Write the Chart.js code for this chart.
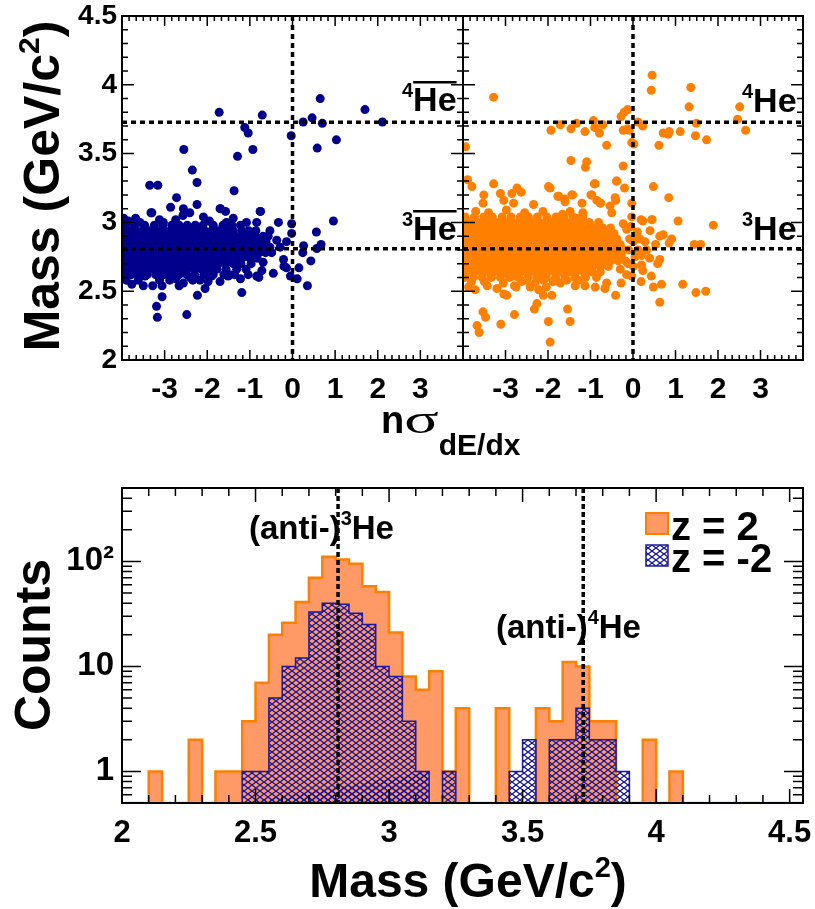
<!DOCTYPE html>
<html>
<head>
<meta charset="utf-8">
<script src="https://cdn.jsdelivr.net/npm/chart.js@4.4.1/dist/chart.umd.min.js"></script>
<style>
  body { margin: 0; background: #fff; }
  #wrap { position: relative; width: 815px; height: 909px; }
  canvas { position: absolute; }
</style>
</head>
<body>
<div id="wrap">
  <canvas id="antiPanel" style="left:0px;top:0px" width="815" height="470"></canvas>
  <canvas id="hePanel" style="left:440px;top:0px" width="375" height="470"></canvas>
  <canvas id="massHist" style="left:0px;top:470px" width="815" height="439"></canvas>
</div>
<script>
const FONT = "'Liberation Sans', Arial, Helvetica, sans-serif";
const NAVY = '#00008c';
const ORANGE = '#ff8000';

// axis labels
const nSigmaTicks = [-3, -2, -1, 0, 1, 2, 3];
const massTicks = [2, 2.5, 3, 3.5, 4, 4.5];
const countTicks = [1, 10, 100];

// nominal masses (GeV/c^2)
const he3Mass = 2.809;
const he4Mass = 3.727;

// mass histogram, 0.05 GeV/c^2 bins starting at 2.00
const binStart = 2.0;
const binWidth = 0.05;
const countsZ2 = [
  0, 0, 1, 0, 0, 2, 0, 1, 1, 3,
  7, 20, 26, 41, 70, 111, 104, 95, 58, 51,
  21, 8, 6, 9, 1, 4, 0, 0, 4, 0,
  0, 4, 3, 11, 10, 3, 3, 0, 0, 2,
  0, 1, 0, 0, 0, 0, 0, 0, 0, 0,
  0
];
const countsZm2 = [
  0, 0, 0, 0, 0, 0, 0, 0, 0, 1,
  1, 5, 10, 12, 33, 40, 39, 32, 25, 10,
  8, 3, 1, 0, 1, 0, 0, 0, 0, 1,
  2, 0, 2, 2, 4, 2, 2, 1, 0, 0,
  0, 0, 0, 0, 0, 0, 0, 0, 0, 0,
  0
];

// z = -2 candidates: dense band as rows [mass, nSigma...], then single tracks [nSigma, mass]
const antiHeBand = [
  [2.98, [-3.92, -3.71, -3.47, -3.24, -3.04, -2.83, -2.66, -2.47, -2.28, -2.10, -1.86, -1.63, -1.42, -1.22]],
  [2.94, [-3.98, -3.83, -3.66, -3.51, -3.34, -3.19, -3.02, -2.87, -2.70, -2.55, -2.39, -2.21, -2.06, -1.89, -1.73, -1.54, -1.39, -1.19, -1.03, -0.86]],
  [2.90, [-3.91, -3.75, -3.58, -3.43, -3.27, -3.10, -2.95, -2.78, -2.63, -2.46, -2.31, -2.14, -1.97, -1.82, -1.66, -1.49, -1.34, -1.17, -1.01, -0.87, -0.69]],
  [2.86, [-3.97, -3.82, -3.67, -3.50, -3.35, -3.18, -3.03, -2.86, -2.71, -2.54, -2.38, -2.23, -2.06, -1.90, -1.75, -1.58, -1.42, -1.27, -1.10, -0.94, -0.79, -0.62]],
  [2.82, [-3.90, -3.75, -3.58, -3.43, -3.26, -3.11, -2.94, -2.79, -2.62, -2.47, -2.30, -2.15, -1.98, -1.83, -1.66, -1.51, -1.34, -1.19, -1.02, -0.86, -0.71, -0.53]],
  [2.78, [-3.97, -3.82, -3.66, -3.51, -3.34, -3.18, -3.02, -2.87, -2.70, -2.55, -2.38, -2.22, -2.07, -1.90, -1.74, -1.59, -1.42, -1.26, -1.11, -0.95, -0.78, -0.63]],
  [2.74, [-3.91, -3.74, -3.59, -3.42, -3.27, -3.10, -2.95, -2.78, -2.63, -2.46, -2.31, -2.14, -1.98, -1.82, -1.67, -1.50, -1.35, -1.18, -1.00, -0.83]],
  [2.70, [-3.98, -3.82, -3.67, -3.50, -3.35, -3.18, -3.03, -2.86, -2.71, -2.54, -2.39, -2.22, -2.06, -1.91, -1.74, -1.57, -1.39, -1.21, -0.97]],
  [2.66, [-3.90, -3.75, -3.58, -3.43, -3.26, -3.11, -2.94, -2.79, -2.62, -2.47, -2.30, -2.13, -1.95, -1.77, -1.56, -1.31, -1.09]],
  [2.62, [-3.96, -3.78, -3.61, -3.41, -3.21, -3.02, -2.85, -2.66, -2.48, -2.29, -2.08, -1.86, -1.61, -1.36]]
];
const antiHeTracks = [
  [-1.72, 3.80], [-0.71, 3.78], [-1.12, 3.69], [-1.04, 3.65], [-0.93, 3.53], [-1.29, 3.48], [-2.55, 3.53],
  [-2.35, 3.38], [-2.24, 3.29], [-3.35, 3.27], [-3.16, 3.27], [-1.37, 3.23], [-2.72, 3.18], [-2.86, 3.11],
  [-2.56, 3.10], [-2.24, 3.13], [0.65, 3.90], [1.70, 3.82], [2.11, 3.73], [0.25, 3.73], [0.46, 3.76],
  [0.70, 3.72], [-0.03, 3.63], [0.58, 3.54], [1.03, 3.60], [0.96, 3.01], [-0.02, 2.99], [-0.33, 3.00],
  [-1.69, 3.10], [-1.57, 3.08], [-0.75, 3.08], [-3.32, 3.07], [-3.96, 3.03], [0.56, 2.93], [0.67, 2.84],
  [0.26, 2.83], [0.24, 2.78], [0.57, 2.81], [0.43, 2.72], [0.15, 2.67], [0.11, 2.59], [0.35, 2.54],
  [-0.05, 2.61], [-0.20, 2.68], [-0.14, 2.67], [-0.02, 2.92], [-0.53, 2.94], [-1.19, 2.49], [-2.23, 2.47],
  [-3.06, 2.46], [-3.19, 2.39], [-3.17, 2.31], [-2.48, 2.33], [-3.77, 2.55], [-3.50, 2.54], [-3.28, 2.54],
  [-3.06, 2.54], [-2.66, 2.54], [-2.34, 2.58], [-2.05, 2.52], [-1.70, 2.57], [-1.51, 2.61], [-0.79, 2.60],
  [-1.04, 2.62], [-3.30, 3.07], [-2.41, 3.07], [-1.70, 3.10], [-0.76, 3.08], [-1.08, 3.00], [-0.84, 3.00],
  [-1.39, 3.03], [-2.09, 3.04], [-3.03, 3.00], [-3.58, 3.00], [-3.46, 2.61], [-2.88, 2.58], [-2.56, 2.56],
  [-2.17, 2.58], [-1.90, 2.61], [-1.47, 2.62], [-0.84, 2.61], [-0.61, 2.82], [-0.49, 2.78], [-0.69, 2.71],
  [-0.72, 2.65], [-0.37, 2.87], [-0.29, 2.82], [-0.21, 2.73], [-0.45, 2.63], [-0.14, 2.86], [-0.57, 2.90],
  [-3.85, 3.01], [-3.68, 3.03], [-3.12, 3.02], [-2.74, 3.02], [-2.57, 3.05], [-1.95, 3.01], [-1.55, 3.00],
  [-3.90, 2.58], [-3.62, 2.58], [-3.12, 2.58], [-2.74, 2.59], [-2.40, 2.60], [-1.98, 2.57], [-1.22, 2.59]
];

// z = +2 candidates
const heBand = [
  [3.04, [-3.95, -3.73, -3.51, -3.31, -3.08, -2.87, -2.65, -2.46, -2.25, -2.03, -1.81, -1.62, -1.41, -1.18]],
  [3.00, [-3.98, -3.82, -3.66, -3.50, -3.34, -3.17, -3.01, -2.85, -2.69, -2.53, -2.37, -2.21, -2.05, -1.89, -1.73, -1.57, -1.40, -1.22, -1.03, -0.81]],
  [2.96, [-3.92, -3.76, -3.60, -3.44, -3.28, -3.12, -2.96, -2.80, -2.64, -2.48, -2.32, -2.16, -2.00, -1.84, -1.68, -1.52, -1.36, -1.20, -1.04, -0.88, -0.71, -0.53]],
  [2.92, [-3.98, -3.83, -3.67, -3.51, -3.35, -3.19, -3.03, -2.87, -2.71, -2.55, -2.39, -2.23, -2.07, -1.91, -1.75, -1.59, -1.43, -1.27, -1.11, -0.95, -0.79, -0.62, -0.45]],
  [2.88, [-3.91, -3.75, -3.59, -3.43, -3.27, -3.11, -2.95, -2.79, -2.63, -2.47, -2.31, -2.15, -1.99, -1.83, -1.67, -1.51, -1.35, -1.19, -1.03, -0.87, -0.71, -0.54, -0.38]],
  [2.84, [-3.98, -3.83, -3.67, -3.51, -3.35, -3.19, -3.03, -2.87, -2.71, -2.55, -2.39, -2.23, -2.07, -1.91, -1.75, -1.59, -1.43, -1.27, -1.11, -0.95, -0.79, -0.63, -0.46, -0.30]],
  [2.80, [-3.91, -3.75, -3.59, -3.43, -3.27, -3.11, -2.95, -2.79, -2.63, -2.47, -2.31, -2.15, -1.99, -1.83, -1.67, -1.51, -1.35, -1.19, -1.03, -0.87, -0.71, -0.55, -0.38, -0.22]],
  [2.76, [-3.98, -3.83, -3.67, -3.51, -3.35, -3.19, -3.03, -2.87, -2.71, -2.55, -2.39, -2.23, -2.07, -1.91, -1.75, -1.59, -1.43, -1.27, -1.11, -0.95, -0.79, -0.63, -0.45, -0.28]],
  [2.72, [-3.91, -3.75, -3.59, -3.43, -3.27, -3.11, -2.95, -2.79, -2.63, -2.47, -2.31, -2.15, -1.99, -1.83, -1.67, -1.51, -1.35, -1.19, -1.03, -0.87, -0.70, -0.52, -0.35]],
  [2.68, [-3.98, -3.83, -3.67, -3.51, -3.35, -3.19, -3.03, -2.87, -2.71, -2.55, -2.39, -2.23, -2.07, -1.91, -1.75, -1.59, -1.43, -1.27, -1.11, -0.94, -0.76, -0.58]],
  [2.64, [-3.92, -3.76, -3.60, -3.44, -3.28, -3.12, -2.96, -2.80, -2.64, -2.48, -2.32, -2.16, -2.00, -1.84, -1.68, -1.51, -1.34, -1.16, -0.97, -0.77]],
  [2.60, [-3.96, -3.76, -3.55, -3.33, -3.12, -2.90, -2.69, -2.47, -2.26, -2.04, -1.82, -1.60, -1.37, -1.12, -0.86]]
];
const heTracks = [
  [0.45, 4.07], [0.43, 3.96], [1.36, 3.98], [-3.28, 3.91], [1.32, 3.84], [2.51, 3.84], [2.46, 3.75],
  [2.65, 3.67], [1.49, 3.72], [1.47, 3.63], [1.73, 3.60], [1.11, 3.66], [0.85, 3.66], [0.71, 3.65],
  [0.83, 3.64], [0.61, 3.56], [0.12, 3.73], [0.23, 3.70], [-0.13, 3.82], [-0.21, 3.80], [-0.28, 3.77],
  [-0.13, 3.68], [-0.23, 3.67], [-0.09, 3.67], [-0.03, 3.58], [0.02, 3.57], [-0.93, 3.74], [-0.90, 3.69],
  [-0.79, 3.65], [-0.71, 3.71], [-1.13, 3.66], [-1.46, 3.68], [-1.33, 3.72], [-1.71, 3.71], [-1.93, 3.67],
  [-0.62, 3.56], [-3.94, 3.55], [-1.46, 3.45], [-1.09, 3.44], [-1.12, 3.40], [-0.23, 3.41], [-3.89, 3.31],
  [-3.79, 3.26], [-3.28, 3.28], [-1.95, 3.25], [-0.91, 3.28], [-0.39, 3.30], [-0.20, 3.25], [0.48, 3.26],
  [0.84, 3.18], [-2.73, 3.25], [-2.63, 3.22], [-3.12, 3.21], [-2.85, 3.21], [-3.51, 3.20], [-3.53, 3.14],
  [-1.77, 3.19], [-1.61, 3.17], [-1.42, 3.20], [-0.99, 3.20], [-0.85, 3.16], [-0.76, 3.14], [-1.20, 3.14],
  [-0.41, 3.16], [-0.54, 3.12], [1.06, 3.01], [1.89, 2.98], [0.45, 3.02], [0.23, 3.01], [-0.03, 3.14],
  [1.44, 2.84], [1.59, 2.84], [1.17, 2.55], [1.48, 2.49], [1.71, 2.50], [0.63, 2.42], [0.48, 2.53],
  [0.67, 2.55], [0.19, 2.57], [0.43, 2.61], [0.63, 2.73], [0.58, 2.70], [0.39, 2.74], [0.20, 2.69],
  [0.23, 2.65], [0.85, 2.85], [0.91, 2.88], [0.71, 2.91], [0.63, 2.90], [0.53, 2.84], [0.40, 2.94],
  [0.44, 3.02], [0.19, 3.02], [-0.41, 2.47], [-1.95, 2.13], [-1.99, 2.28], [-1.48, 2.28], [-1.54, 2.37],
  [-2.32, 2.37], [-2.26, 2.41], [-2.79, 2.33], [-3.11, 2.26], [-3.67, 2.25], [-3.62, 2.20], [-3.53, 2.35],
  [-3.47, 2.31], [-3.04, 2.48], [-2.97, 2.47], [-2.79, 2.54], [-2.75, 2.53], [-2.22, 2.51], [-2.11, 2.47],
  [-1.91, 2.47], [-2.04, 2.53], [-3.04, 3.16], [-2.81, 3.14], [-2.34, 3.13], [-1.99, 3.26], [-1.75, 3.19],
  [-1.60, 3.15], [-1.44, 3.20], [-1.48, 3.08], [-1.18, 3.07], [-0.97, 3.20], [-0.89, 3.28], [-0.77, 3.14],
  [-0.50, 3.07], [-0.38, 3.30], [-0.42, 3.18], [-0.23, 2.99], [-0.03, 3.04], [0.09, 2.90], [0.01, 2.86],
  [0.05, 2.75], [0.01, 2.68], [-0.15, 2.62], [-0.28, 2.56], [-0.03, 2.61], [-3.87, 2.53], [-3.71, 2.51],
  [-3.43, 2.54], [-3.20, 2.52], [-2.50, 2.58], [-2.42, 2.53], [-1.71, 2.56], [-1.56, 2.58], [-1.36, 2.54],
  [-1.13, 2.54], [-0.89, 2.53], [-0.66, 2.52], [-0.62, 2.56], [-2.11, 2.58], [-2.77, 2.61], [-2.93, 2.62],
  [-0.15, 2.95], [-0.10, 2.80], [-0.18, 2.72], [-0.08, 2.88], [-0.30, 2.66], [-0.12, 2.70], [0.12, 2.80],
  [0.16, 2.88], [0.28, 2.86], [0.32, 2.80], [0.20, 2.76], [0.10, 2.93], [-0.05, 2.97],
  [-3.70, 3.08], [-3.40, 3.07], [-2.98, 3.09], [-2.55, 3.07], [-2.12, 3.08], [-1.66, 3.06], [-1.30, 3.03],
  [-3.80, 2.57], [-3.50, 2.57], [-3.05, 2.56], [-2.62, 2.57], [-2.30, 2.56], [-1.88, 2.57], [-1.28, 2.58]
];

function toPoints(band, tracks) {
  const pts = [];
  band.forEach(([m, xs]) => xs.forEach(x => pts.push({ x, y: m })));
  tracks.forEach(([x, m]) => pts.push({ x, y: m }));
  return pts;
}

// tick mark positions [value, length]
const nSigmaMarks = [];
for (let k = -24; k <= 24; k++) nSigmaMarks.push([k / 6, k % 6 === 0 ? 10 : 5]);
const massMarksTop = [];
for (let k = 20; k <= 45; k++) massMarksTop.push([k / 10, k % 5 === 0 ? 12 : 6]);
const massMarksBottom = [];
for (let k = 20; k <= 45; k++) massMarksBottom.push([k / 10, k % 5 === 0 ? 14 : 8]);
const countMarks = [];
[0.1, 1, 10, 100].forEach(d => {
  for (let m = 1; m <= 9; m++) {
    const v = m * d;
    if (v >= 0.5 && v <= 500) countMarks.push([v, m === 1 ? 19 : 10]);
  }
});

function drawFrame(chart, xMarks, yMarks) {
  const { ctx, chartArea: a, scales: { x, y } } = chart;
  ctx.save();
  ctx.strokeStyle = '#000';
  ctx.lineWidth = 1.5;
  ctx.beginPath();
  xMarks.forEach(([v, len]) => {
    const px = x.getPixelForValue(v);
    ctx.moveTo(px, a.bottom); ctx.lineTo(px, a.bottom - len);
    ctx.moveTo(px, a.top); ctx.lineTo(px, a.top + len);
  });
  yMarks.forEach(([v, len]) => {
    const py = y.getPixelForValue(v);
    ctx.moveTo(a.left, py); ctx.lineTo(a.left + len, py);
    ctx.moveTo(a.right, py); ctx.lineTo(a.right - len, py);
  });
  ctx.stroke();
  ctx.lineWidth = 2;
  ctx.strokeRect(a.left, a.top, a.right - a.left, a.bottom - a.top);
  ctx.restore();
}

function dashed(ctx, x0, y0, x1, y1, dash) {
  ctx.save();
  ctx.strokeStyle = '#000';
  ctx.lineWidth = 3.5;
  ctx.setLineDash(dash);
  ctx.beginPath();
  ctx.moveTo(x0, y0);
  ctx.lineTo(x1, y1);
  ctx.stroke();
  ctx.restore();
}

// draws a run of text pieces (for super/subscripts); returns total width
function richText(ctx, parts, x, y, opts = {}) {
  ctx.save();
  ctx.fillStyle = '#000';
  ctx.textBaseline = 'alphabetic';
  ctx.textAlign = 'left';
  let total = 0;
  parts.forEach(p => { ctx.font = p.font; total += ctx.measureText(p.text).width * (p.sx || 1); });
  ctx.translate(x, y);
  if (opts.rotate) ctx.rotate(-Math.PI / 2);
  let cx = opts.center ? -total / 2 : 0;
  parts.forEach(p => {
    ctx.font = p.font;
    const w = ctx.measureText(p.text).width * (p.sx || 1);
    ctx.save();
    ctx.translate(cx, p.dy || 0);
    ctx.scale(p.sx || 1, 1);
    ctx.fillText(p.text, 0, 0);
    ctx.restore();
    if (p.overline) ctx.fillRect(cx, p.overline, w, 2.5);
    cx += w;
  });
  ctx.restore();
  return total;
}

const bold = s => `bold ${s}px ${FONT}`;

function scatterOptions(showY, pad) {
  return {
    responsive: false,
    animation: false,
    events: [],
    layout: { padding: pad },
    plugins: { legend: { display: false }, tooltip: { enabled: false } },
    scales: {
      x: {
        type: 'linear', min: -4, max: 4,
        grid: { display: false, drawTicks: false },
        border: { display: false },
        afterBuildTicks: s => { s.ticks = nSigmaTicks.map(v => ({ value: v })); },
        afterFit: s => { s.height = 110; s.paddingLeft = 0; s.paddingRight = 0; },
        ticks: { color: '#000', padding: 12, font: { family: FONT, weight: 'bold', size: 30 },
                 callback: v => String(v) }
      },
      y: {
        type: 'linear', min: 2, max: 4.5, display: showY,
        grid: { display: false, drawTicks: false },
        border: { display: false },
        afterBuildTicks: s => { s.ticks = massTicks.map(v => ({ value: v })); },
        afterFit: s => { s.width = showY ? 122 : 0; s.paddingTop = 0; s.paddingBottom = 0; },
        ticks: { color: '#000', padding: 5, font: { family: FONT, weight: 'bold', size: 28 },
                 callback: v => String(v) }
      }
    }
  };
}

function massLinesPlugin(labels) {
  return {
    id: 'massLines',
    afterDatasetsDraw(chart) {
      const { ctx, chartArea: a, scales: { x, y } } = chart;
      [he3Mass, he4Mass].forEach(m => {
        const py = y.getPixelForValue(m);
        dashed(ctx, a.left, py, a.right, py, [5, 4]);
      });
      const px = x.getPixelForValue(0);
      dashed(ctx, px, a.top, px, a.bottom, [5, 4]);
      drawFrame(chart, nSigmaMarks, massMarksTop);
      labels(ctx);
    }
  };
}

// z = -2 panel (left), also carries the shared axis titles
new Chart(document.getElementById('antiPanel'), {
  type: 'scatter',
  data: {
    datasets: [{
      data: toPoints(antiHeBand, antiHeTracks),
      pointRadius: 4.5, pointBorderWidth: 0,
      pointBackgroundColor: NAVY, clip: 0
    }]
  },
  options: scatterOptions(true, { left: 0, right: 352, top: 16, bottom: 0 }),
  plugins: [massLinesPlugin(ctx => {
    const he = bold(34), sup = bold(20);
    richText(ctx, [{ text: '4', font: sup, dy: -14 }, { text: 'He', font: he, overline: -30 }], 402, 111);
    richText(ctx, [{ text: '3', font: sup, dy: -14 }, { text: 'He', font: he, overline: -30 }], 402, 240);
    richText(ctx, [
      { text: 'Mass (GeV/c', font: bold(50) },
      { text: '2', font: bold(30), dy: -20 },
      { text: ')', font: bold(50) }
    ], 59, 186, { rotate: true, center: true });
    richText(ctx, [
      { text: 'n', font: bold(38) },
      { text: '\u03c3', font: `40px 'Liberation Serif', serif`, sx: 1.6 },
      { text: 'dE/dx', font: bold(30), dy: 22 }
    ], 381, 433);
  })]
});

// z = +2 panel (right)
new Chart(document.getElementById('hePanel'), {
  type: 'scatter',
  data: {
    datasets: [{
      data: toPoints(heBand, heTracks),
      pointRadius: 4.5, pointBorderWidth: 0,
      pointBackgroundColor: ORANGE, clip: 0
    }]
  },
  options: scatterOptions(false, { left: 23, right: 12, top: 16, bottom: 0 }),
  plugins: [massLinesPlugin(ctx => {
    const he = bold(34), sup = bold(20);
    richText(ctx, [{ text: '4', font: sup, dy: -14 }, { text: 'He', font: he }], 302, 112);
    richText(ctx, [{ text: '3', font: sup, dy: -14 }, { text: 'He', font: he }], 302, 240);
  })]
});

// mass histogram, log scale
const countFloor = 0.5;
function histOutline(counts) {
  const pts = [];
  counts.forEach((c, i) => {
    const lo = binStart + i * binWidth;
    const y = c > 0 ? c : countFloor;
    pts.push({ x: lo, y }, { x: lo + binWidth, y });
  });
  return pts;
}

function hatch(bg) {
  const tile = document.createElement('canvas');
  tile.width = 8; tile.height = 6;
  const g = tile.getContext('2d');
  if (bg) { g.fillStyle = bg; g.fillRect(0, 0, 8, 6); }
  g.strokeStyle = '#15159e';
  g.lineWidth = 1.3;
  g.beginPath();
  g.moveTo(0, 0); g.lineTo(8, 6);
  g.moveTo(0, 6); g.lineTo(8, 0);
  g.stroke();
  return g.createPattern(tile, 'repeat');
}

new Chart(document.getElementById('massHist'), {
  type: 'line',
  data: {
    datasets: [
      {
        label: 'z = -2',
        data: histOutline(countsZm2),
        borderColor: '#1a1a9a', borderWidth: 1.5,
        backgroundColor: hatch(null), fill: 'start',
        pointRadius: 0, tension: 0,
        segment: {
          borderColor: c => (c.p0.parsed.y === countFloor && c.p1.parsed.y === countFloor) ? 'rgba(0,0,0,0)' : '#1a1a9a'
        }
      },
      {
        label: 'z = 2',
        data: histOutline(countsZ2),
        borderColor: ORANGE, borderWidth: 2.5,
        backgroundColor: '#ff9966', fill: 'start',
        pointRadius: 0, tension: 0
      }
    ]
  },
  options: {
    responsive: false,
    animation: false,
    events: [],
    layout: { padding: { left: 0, right: 12, top: 18, bottom: 0 } },
    plugins: { legend: { display: false }, tooltip: { enabled: false } },
    scales: {
      x: {
        type: 'linear', min: 2, max: 4.55,
        grid: { display: false, drawTicks: false },
        border: { display: false },
        afterBuildTicks: s => { s.ticks = massTicks.map(v => ({ value: v })); },
        afterFit: s => { s.height = 106; s.paddingLeft = 0; s.paddingRight = 0; },
        ticks: { color: '#000', padding: 12, font: { family: FONT, weight: 'bold', size: 31 },
                 callback: v => String(v) }
      },
      y: {
        type: 'logarithmic', min: 0.5, max: 500,
        grid: { display: false, drawTicks: false },
        border: { display: false },
        afterBuildTicks: s => { s.ticks = countTicks.map(v => ({ value: v })); },
        afterFit: s => { s.width = 122; s.paddingTop = 0; s.paddingBottom = 0; },
        ticks: { color: '#000', padding: 8, font: { family: FONT, weight: 'bold', size: 33 },
                 callback: v => (v === 100 ? '10\u00b2' : String(v)) }
      }
    }
  },
  plugins: [{
    id: 'histDecor',
    afterDatasetsDraw(chart) {
      const { ctx, chartArea: a, scales: { x } } = chart;
      [he3Mass, he4Mass].forEach(m => {
        const px = x.getPixelForValue(m);
        dashed(ctx, px, a.top, px, a.bottom, [5, 3]);
      });
      drawFrame(chart, massMarksBottom, countMarks);

      const lbl = bold(33), sup = bold(20);
      richText(ctx, [{ text: '(anti-)', font: lbl }, { text: '3', font: sup, dy: -14 }, { text: 'He', font: lbl }], 249, 69);
      richText(ctx, [{ text: '(anti-)', font: lbl }, { text: '4', font: sup, dy: -14 }, { text: 'He', font: lbl }], 496, 168);

      // legend
      ctx.save();
      ctx.fillStyle = '#ff9966';
      ctx.fillRect(646, 43, 22, 21);
      ctx.strokeStyle = ORANGE; ctx.lineWidth = 2;
      ctx.strokeRect(646, 43, 22, 21);
      ctx.fillStyle = hatch('#ffffff');
      ctx.fillRect(646, 75, 22, 21);
      ctx.strokeStyle = '#1a1a9a'; ctx.lineWidth = 1.5;
      ctx.strokeRect(646, 75, 22, 21);
      ctx.restore();
      richText(ctx, [{ text: 'z = 2', font: bold(40) }], 671, 70);
      richText(ctx, [{ text: 'z = -2', font: bold(40) }], 671, 102);

      richText(ctx, [{ text: 'Counts', font: bold(50) }], 50, 175, { rotate: true, center: true });
      richText(ctx, [
        { text: 'Mass (GeV/c', font: bold(48) },
        { text: '2', font: bold(29), dy: -20 },
        { text: ')', font: bold(48) }
      ], 468, 427, { center: true });
    }
  }]
});
</script>
</body>
</html>
